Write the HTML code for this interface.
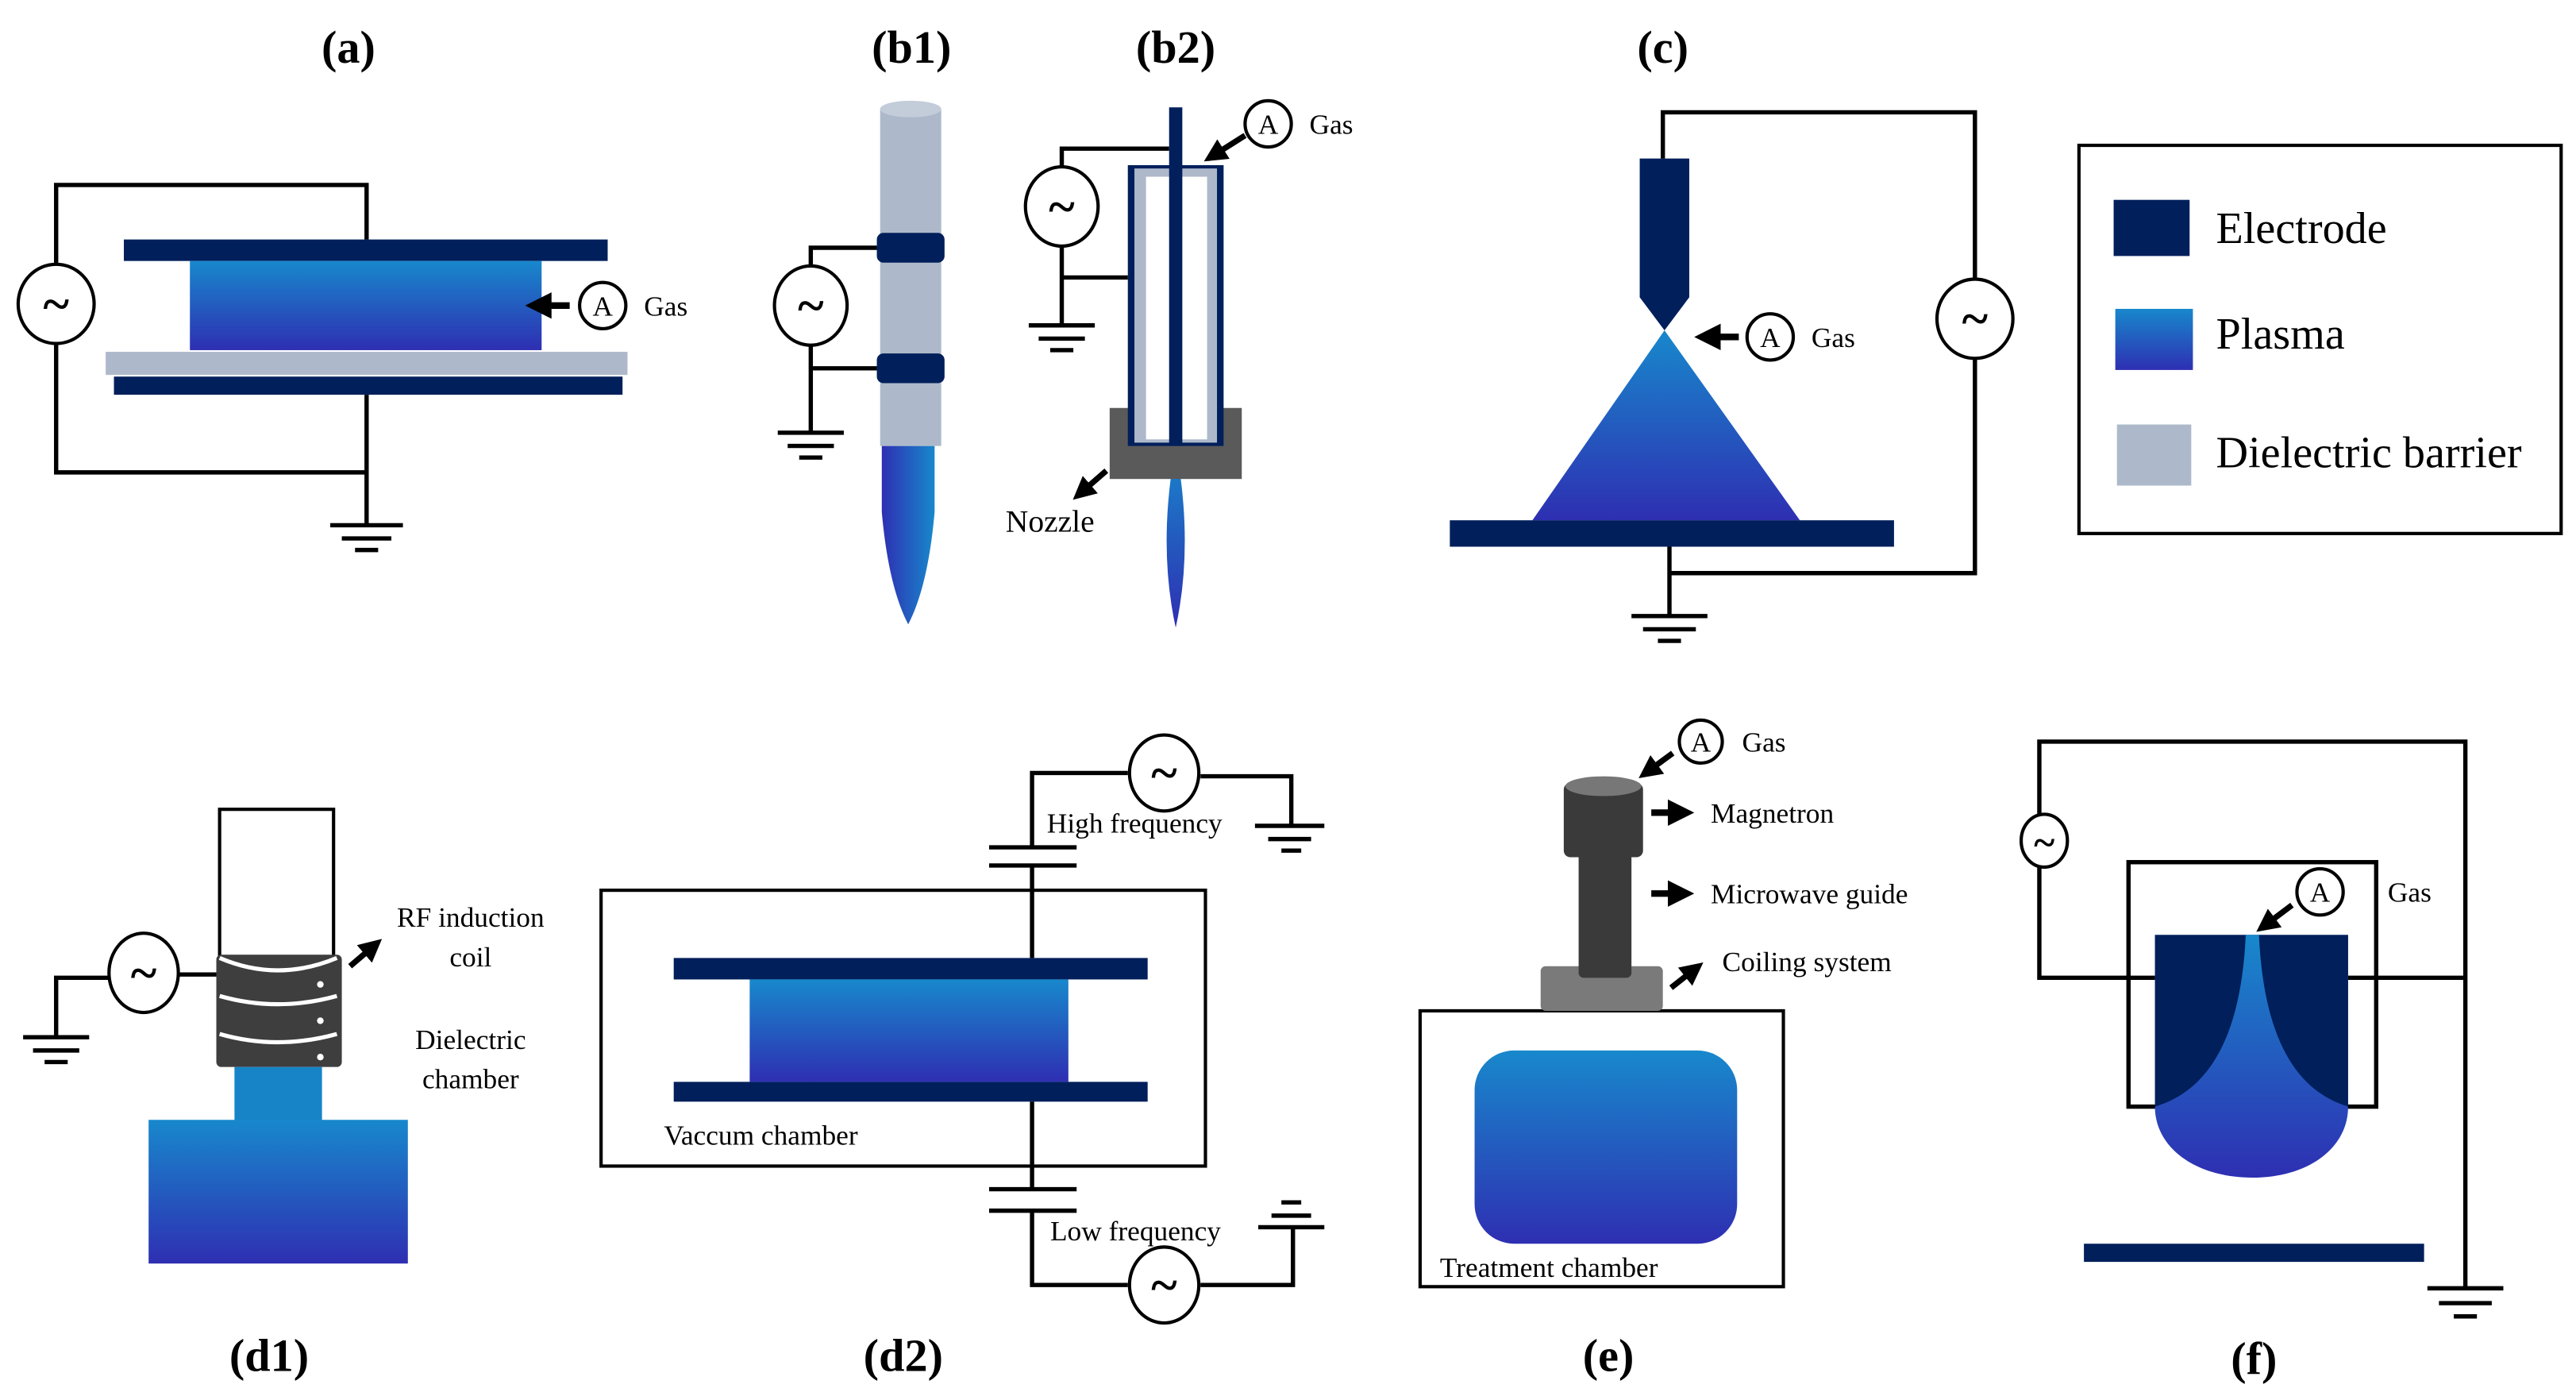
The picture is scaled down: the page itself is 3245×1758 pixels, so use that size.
<!DOCTYPE html>
<html><head><meta charset="utf-8"><style>
html,body{margin:0;padding:0;background:#fff;}
svg{display:block;}
text{font-family:"Liberation Serif",serif;fill:#000;}
.lb{font-weight:bold;font-size:28px;text-anchor:middle;}
.s{font-size:17px;}
.w{fill:none;stroke:#000;stroke-width:2.6;}
.src{fill:#fff;stroke:#000;stroke-width:2;}
.t{font-weight:bold;font-size:30px;text-anchor:middle;}
.A{font-size:17px;text-anchor:middle;}
</style></head><body>
<svg width="3245" height="1758" viewBox="0 0 1560 845.2" preserveAspectRatio="none" xmlns="http://www.w3.org/2000/svg">
<defs>
<linearGradient id="pg" x1="0" y1="0" x2="0" y2="1"><stop offset="0" stop-color="#1888cc"/><stop offset="1" stop-color="#2e2fb2"/></linearGradient>
<linearGradient id="pgh" x1="0" y1="0" x2="1" y2="0"><stop offset="0" stop-color="#2e2fb2"/><stop offset="1" stop-color="#1888cc"/></linearGradient>
<marker id="ar" markerWidth="4" markerHeight="4" refX="2" refY="2" orient="auto" markerUnits="strokeWidth"><path d="M0,0 L4,2 L0,4z" fill="#000"/></marker>
</defs>

<text class="lb" x="211" y="38">(a)</text>
<text class="lb" x="552" y="38">(b1)</text>
<text class="lb" x="712" y="38">(b2)</text>
<text class="lb" x="1007" y="38">(c)</text>
<text class="lb" x="163" y="830">(d1)</text>
<text class="lb" x="547" y="830">(d2)</text>
<text class="lb" x="974" y="830">(e)</text>
<text class="lb" x="1365" y="832">(f)</text>

<!-- (a) -->
<path class="w" d="M222,145 V112 H34 V160 M34,208 V286 H222 M222,239 V318"/>
<path class="w" d="M200,318 H244 M207,326 H237 M215,333 H229"/>
<rect x="75" y="145" width="293" height="13" fill="#001f5b"/>
<rect x="115" y="158" width="213" height="54" fill="url(#pg)"/>
<rect x="64" y="213" width="316" height="14" fill="#adb9ca"/>
<rect x="69" y="228" width="308" height="11" fill="#001f5b"/>
<ellipse class="src" cx="34" cy="184" rx="23" ry="24"/><text class="t" x="34" y="194">~</text>
<line x1="345" y1="185" x2="326" y2="185" stroke="#000" stroke-width="4" marker-end="url(#ar)"/>
<circle class="src" cx="365" cy="185" r="14"/><text class="A" x="365" y="191">A</text>
<text class="s" x="390" y="191">Gas</text>

<!-- (b1) -->
<path d="M534,270 L534,310 Q538,355 550,378 Q562,355 566,310 L566,270 Z" fill="url(#pgh)"/>
<rect x="533" y="66" width="37" height="204" fill="#adb9ca"/>
<ellipse cx="551.5" cy="66" rx="18.5" ry="5" fill="#c3ccd9"/>
<rect x="531" y="141" width="41" height="18" rx="4" fill="#001f5b"/>
<rect x="531" y="214" width="41" height="18" rx="4" fill="#001f5b"/>
<path class="w" d="M531,150 H491 V162 M491,208 V262 M491,223 H531"/>
<path class="w" d="M471,262 H511 M477,270 H505 M484,277 H498"/>
<ellipse class="src" cx="491" cy="185" rx="22" ry="24"/><text class="t" x="491" y="195">~</text>

<!-- (b2) -->
<path d="M712,270 Q701,330 712,380 Q723,330 712,270 Z" fill="url(#pg)"/>
<rect x="672" y="247" width="80" height="43" fill="#5a5a5a"/>
<rect x="683" y="100" width="58" height="170" fill="#001f5b"/>
<rect x="687" y="102" width="50" height="166" fill="#adb9ca"/>
<rect x="694" y="107" width="37" height="159" fill="#fff"/>
<rect x="708" y="65" width="8" height="205" fill="#001f5b"/>
<path class="w" d="M708,90 H643 V102 M643,148 V197 M643,168 H683"/>
<path class="w" d="M623,197 H663 M629,205 H657 M636,212 H650"/>
<ellipse class="src" cx="643" cy="125" rx="22" ry="24"/><text class="t" x="643" y="135">~</text>
<line x1="754" y1="82" x2="735" y2="94" stroke="#000" stroke-width="3.5" marker-end="url(#ar)"/>
<circle class="src" cx="768" cy="75" r="14"/><text class="A" x="768" y="81">A</text>
<text class="s" x="793" y="81">Gas</text>
<line x1="670" y1="285" x2="655" y2="298" stroke="#000" stroke-width="3.5" marker-end="url(#ar)"/>
<text class="s" x="609" y="322" style="font-size:19px">Nozzle</text>

<!-- (c) -->
<path class="w" d="M1007,96 V68 H1196 V169 M1196,217 V347 H1011 M1011,331 V373"/>
<path class="w" d="M988,373 H1034 M995,381 H1027 M1004,388 H1018"/>
<path d="M993,96 H1023 V180 L1008,200 L993,180 Z" fill="#001f5b"/>
<path d="M1008,200 L1090,315 H928 Z" fill="url(#pg)"/>
<rect x="878" y="315" width="269" height="16" fill="#001f5b"/>
<ellipse class="src" cx="1196" cy="193" rx="23" ry="24"/><text class="t" x="1196" y="203">~</text>
<line x1="1053" y1="204" x2="1034" y2="204" stroke="#000" stroke-width="4" marker-end="url(#ar)"/>
<circle class="src" cx="1072" cy="204" r="14"/><text class="A" x="1072" y="210">A</text>
<text class="s" x="1097" y="210">Gas</text>

<!-- legend -->
<rect x="1259" y="88" width="292" height="235" fill="none" stroke="#000" stroke-width="2"/>
<rect x="1280" y="121" width="46" height="34" fill="#001f5b"/>
<rect x="1281" y="187" width="47" height="37" fill="url(#pg)"/>
<rect x="1282" y="257" width="45" height="37" fill="#adb9ca"/>
<text x="1342" y="147" style="font-size:27px">Electrode</text>
<text x="1342" y="211" style="font-size:27px">Plasma</text>
<text x="1342" y="283" style="font-size:27px">Dielectric barrier</text>

<!-- (d1) -->
<rect x="133" y="490" width="69" height="100" fill="#fff" stroke="#000" stroke-width="2"/>
<rect x="131" y="578" width="76" height="68" rx="3" fill="#3e3e3e"/>
<path d="M133,580 Q168,595 204,580" stroke="#fff" stroke-width="2.5" fill="none"/>
<path d="M133,603 Q168,613 204,603 M133,626 Q168,636 204,626" stroke="#fff" stroke-width="2.5" fill="none"/>
<circle cx="194" cy="596" r="2" fill="#fff"/><circle cx="194" cy="618" r="2" fill="#fff"/><circle cx="194" cy="640" r="2" fill="#fff"/>
<rect x="142" y="646" width="53" height="33" fill="#1784c8"/>
<rect x="90" y="678" width="157" height="87" fill="url(#pg)"/>
<path class="w" d="M131,590 H108 M66,592 H34 V628"/>
<path class="w" d="M14,628 H54 M20,636 H48 M27,643 H41"/>
<ellipse class="src" cx="87" cy="589" rx="21" ry="24"/><text class="t" x="87" y="599">~</text>
<line x1="212" y1="585" x2="226" y2="573" stroke="#000" stroke-width="3.5" marker-end="url(#ar)"/>
<text class="s" x="285" y="561" text-anchor="middle">RF induction</text>
<text class="s" x="285" y="585" text-anchor="middle">coil</text>
<text class="s" x="285" y="635" text-anchor="middle">Dielectric</text>
<text class="s" x="285" y="659" text-anchor="middle">chamber</text>

<!-- (d2) -->
<rect x="364" y="539" width="366" height="167" fill="none" stroke="#000" stroke-width="2"/>
<rect x="408" y="580" width="287" height="13" fill="#001f5b"/>
<rect x="454" y="593" width="193" height="62" fill="url(#pg)"/>
<rect x="408" y="655" width="287" height="12" fill="#001f5b"/>
<path class="w" d="M625,580 V524 M625,513 V468 H683 M727,470 H782 V500"/>
<path class="w" d="M599,513 H652 M599,524 H652"/>
<path class="w" d="M760,500 H802 M768,508 H794 M776,515 H788"/>
<path class="w" d="M625,667 V720 M625,733 V778 H683 M727,778 H783 V743"/>
<path class="w" d="M599,720 H652 M599,733 H652"/>
<path class="w" d="M762,743 H802 M770,736 H794 M776,728 H788"/>
<ellipse class="src" cx="705" cy="468" rx="21" ry="23"/><text class="t" x="705" y="478">~</text>
<ellipse class="src" cx="705" cy="778" rx="21" ry="23"/><text class="t" x="705" y="788">~</text>
<text class="s" x="634" y="504">High frequency</text>
<text class="s" x="636" y="751">Low frequency</text>
<text class="s" x="402" y="693">Vaccum chamber</text>

<!-- (e) -->
<rect x="860" y="612" width="220" height="167" fill="#fff" stroke="#000" stroke-width="2"/>
<rect x="893" y="636" width="159" height="117" rx="24" fill="url(#pg)"/>
<rect x="933" y="585" width="74" height="27" rx="3" fill="#7a7a7a"/>
<rect x="956" y="515" width="32" height="77" rx="3" fill="#3a3a3a"/>
<rect x="947" y="474" width="48" height="45" rx="4" fill="#3a3a3a"/>
<ellipse cx="971" cy="476" rx="23" ry="6" fill="#777"/>
<line x1="1013" y1="456" x2="998" y2="467" stroke="#000" stroke-width="3.5" marker-end="url(#ar)"/>
<circle class="src" cx="1030" cy="449" r="13"/><text class="A" x="1030" y="455">A</text>
<text class="s" x="1055" y="455">Gas</text>
<line x1="1000" y1="492" x2="1018" y2="492" stroke="#000" stroke-width="4" marker-end="url(#ar)"/>
<line x1="1000" y1="541" x2="1018" y2="541" stroke="#000" stroke-width="4" marker-end="url(#ar)"/>
<line x1="1012" y1="598" x2="1026" y2="587" stroke="#000" stroke-width="3.5" marker-end="url(#ar)"/>
<text class="s" x="1036" y="498">Magnetron</text>
<text class="s" x="1036" y="547">Microwave guide</text>
<text class="s" x="1043" y="588">Coiling system</text>
<text class="s" x="872" y="773">Treatment chamber</text>

<!-- (f) -->
<path class="w" d="M1235,497 V449 H1493 V780 M1235,521 V592 H1305 M1422,592 H1493"/>
<path class="w" d="M1470,780 H1516 M1477,789 H1509 M1486,797 H1500"/>
<rect x="1289" y="522" width="150" height="148" fill="none" stroke="#000" stroke-width="2.6"/>
<rect x="1305" y="566" width="117" height="104" fill="#001f5b"/>
<path d="M1360,566 H1368 Q1372,655 1422,670 C1422,695 1398,713 1364,713 C1330,713 1305,695 1305,670 Q1356,655 1360,566 Z" fill="url(#pg)"/>
<ellipse class="src" cx="1238" cy="509" rx="14" ry="16"/><text class="t" x="1238" y="518" style="font-size:24px">~</text>
<line x1="1388" y1="548" x2="1372" y2="560" stroke="#000" stroke-width="3.5" marker-end="url(#ar)"/>
<circle class="src" cx="1405" cy="540" r="14"/><text class="A" x="1405" y="546">A</text>
<text class="s" x="1446" y="546">Gas</text>
<rect x="1262" y="753" width="206" height="11" fill="#001f5b"/>
</svg>
</body></html>
